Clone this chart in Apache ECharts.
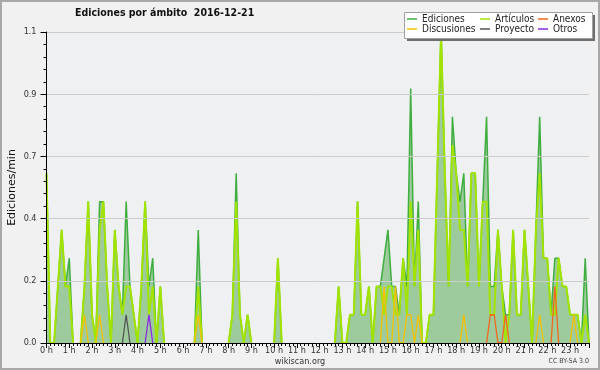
<!DOCTYPE html>
<html><head><meta charset="utf-8">
<script src="https://cdn.jsdelivr.net/npm/echarts@6/dist/echarts.min.js"></script>
<style>html,body{margin:0;padding:0;background:#f1f1f1}#c{width:600px;height:370px}</style>
</head><body><div id="c"></div>
<script>
// 10-minute bins, 0:00 .. 23:50 (144 points), edits per minute
const slots = Array.from({length:144}, (_, i) => i);
const hourTicks = ["0 h","1 h","2 h","3 h","4 h","5 h","6 h","7 h","8 h","9 h","10 h","11 h","12 h","13 h","14 h","15 h","16 h","17 h","18 h","19 h","20 h","21 h","22 h","23 h"];
const yTicks = ["0.0","0.2","0.4","0.7","0.9","1.1"];
const ediciones = [
 0.6,0,0,0.2,0.4,0.2,0.3,0,0,0,0.2,0.5,
 0.1,0,0.5,0.5,0.2,0,0.4,0.2,0.1,0.5,0.2,0.1,
 0,0.2,0.5,0.2,0.3,0,0.2,0,0,0,0,0,
 0,0,0,0,0.4,0,0,0,0,0,0,0,
 0,0.1,0.6,0.1,0,0.1,0,0,0,0,0,0,
 0,0.3,0,0,0,0,0,0,0,0,0,0,
 0,0,0,0,0,0.2,0,0,0.1,0.1,0.5,0.1,
 0.1,0.2,0,0.2,0.2,0.3,0.4,0.2,0.2,0.1,0.3,0.2,
 0.9,0.2,0.5,0,0,0.1,0.1,0.6,1.1,0.6,0.2,0.8,
 0.6,0.5,0.6,0.2,0.6,0.6,0.2,0.5,0.8,0.2,0.2,0.4,
 0.2,0.1,0.1,0.4,0.1,0.1,0.4,0.2,0,0.4,0.8,0.3,
 0.3,0.1,0.3,0.3,0.2,0.2,0.1,0.1,0.1,0,0.3,0
];
const articulos = [
 0.6,0,0,0.2,0.4,0.2,0.2,0,0,0,0.2,0.5,
 0.1,0,0.4,0.5,0.2,0,0.4,0.2,0.1,0.2,0.2,0.1,
 0,0.2,0.5,0.1,0.2,0,0.2,0,0,0,0,0,
 0,0,0,0,0.2,0,0,0,0,0,0,0,
 0,0.1,0.5,0.1,0,0.1,0,0,0,0,0,0,
 0,0.3,0,0,0,0,0,0,0,0,0,0,
 0,0,0,0,0,0.2,0,0,0.1,0.1,0.5,0.1,
 0.1,0.2,0,0.2,0.2,0.1,0.2,0.2,0.1,0.1,0.3,0.1,
 0.5,0.2,0.4,0,0,0.1,0.1,0.6,1.1,0.6,0.2,0.7,
 0.6,0.4,0.4,0.2,0.6,0.6,0.2,0.5,0.5,0.1,0.1,0.4,
 0.2,0,0.1,0.4,0.1,0.1,0.4,0.2,0,0.4,0.6,0.3,
 0.3,0.1,0.1,0.3,0.2,0.2,0.1,0.1,0.1,0,0.1,0
];
const anexos = [
 0,0,0,0,0,0,0,0,0,0,0,0,
 0,0,0,0,0,0,0,0,0,0,0,0,
 0,0,0,0,0,0,0,0,0,0,0,0,
 0,0,0,0,0,0,0,0,0,0,0,0,
 0,0,0,0,0,0,0,0,0,0,0,0,
 0,0,0,0,0,0,0,0,0,0,0,0,
 0,0,0,0,0,0,0,0,0,0,0,0,
 0,0,0,0,0,0,0,0,0,0,0,0,
 0,0,0,0,0,0,0,0,0,0,0,0,
 0,0,0,0,0,0,0,0,0,0.1,0.1,0,
 0,0.1,0,0,0,0,0,0,0,0,0,0,
 0,0,0.2,0,0,0,0,0,0,0,0,0
];
const discusiones = [
 0,0,0,0,0,0,0,0,0,0,0.1,0,
 0,0,0.1,0,0,0,0,0,0,0,0,0,
 0,0,0,0,0,0,0,0,0,0,0,0,
 0,0,0,0,0.1,0,0,0,0,0,0,0,
 0,0,0,0,0,0,0,0,0,0,0,0,
 0,0,0,0,0,0,0,0,0,0,0,0,
 0,0,0,0,0,0,0,0,0,0,0,0,
 0,0,0,0,0,0.2,0,0,0.2,0,0,0.1,
 0.1,0,0.1,0,0,0,0,0,0,0,0,0,
 0,0,0.1,0,0,0,0,0,0,0,0,0,
 0,0,0,0,0,0,0,0,0,0,0.1,0,
 0,0,0,0,0,0,0,0.1,0,0,0,0
];
const proyecto = [
 0,0,0,0,0,0,0,0,0,0,0,0,
 0,0,0,0,0,0,0,0,0,0.1,0,0,
 0,0,0,0,0,0,0,0,0,0,0,0,
 0,0,0,0,0,0,0,0,0,0,0,0,
 0,0,0,0,0,0,0,0,0,0,0,0,
 0,0,0,0,0,0,0,0,0,0,0,0,
 0,0,0,0,0,0,0,0,0,0,0,0,
 0,0,0,0,0,0,0,0,0,0,0,0,
 0,0,0,0,0,0,0,0,0,0,0,0,
 0,0,0,0,0,0,0,0,0,0,0,0,
 0,0,0,0,0,0,0,0,0,0,0,0,
 0,0,0,0,0,0,0,0,0,0,0,0
];
const otros = [
 0,0,0,0,0,0,0,0,0,0,0,0,
 0,0,0,0,0,0,0,0,0,0,0,0,
 0,0,0,0.1,0,0,0,0,0,0,0,0,
 0,0,0,0,0,0,0,0,0,0,0,0,
 0,0,0,0,0,0,0,0,0,0,0,0,
 0,0,0,0,0,0,0,0,0,0,0,0,
 0,0,0,0,0,0,0,0,0,0,0,0,
 0,0,0,0,0,0,0,0,0,0,0,0,
 0,0,0,0,0,0,0,0,0,0,0,0,
 0,0,0,0,0,0,0,0,0,0,0,0,
 0,0,0,0,0,0,0,0,0,0,0,0,
 0,0,0,0,0,0,0,0,0,0,0,0
];

// drop runs of zeros (so no coloured line is drawn along the axis)
const pair = arr => slots.map(i => {
  const v = arr[i];
  const p = i > 0 ? arr[i-1] : 0, n = i < arr.length-1 ? arr[i+1] : 0;
  return [i, (v === 0 && p === 0 && n === 0) ? null : v];
});
const F = '"DejaVu Sans Condensed", "DejaVu Sans", sans-serif';
const chart = echarts.init(document.getElementById('c'), null, {renderer:'canvas'});
function lineSeries(name, data, color, width, z, area) {
  const s = {name, type:'line', data: pair(data), symbol:'none', showSymbol:false,
    lineStyle:{color, width}, itemStyle:{color}, z, animation:false, connectNulls:false};
  if (area) s.areaStyle = {color: area, opacity: 1};
  return s;
}
const legendBase = {orient:'vertical', top:14, padding:0, itemWidth:10, itemHeight:1.5, icon:'rect',
  itemGap:0, itemTextGap:7, selectedMode:false,
  textStyle:{fontFamily:F, fontSize:10, color:'#222', lineHeight:10}};
chart.setOption({
  backgroundColor:'#f1f1f1',
  animation:false,
  title:{text:'Ediciones por ámbito  2016-12-21', left:75, top:8, padding:0,
    textStyle:{fontFamily:F, fontSize:10.5, fontWeight:'bold', color:'#111'}},
  graphic:[
    {type:'rect', shape:{x:1, y:1, width:598, height:368}, style:{fill:'none', stroke:'#a8a8a8', lineWidth:2}, z:100},
    {type:'rect', shape:{x:407, y:15, width:188, height:26}, style:{fill:'#6e6e6e'}, z:50},
    {type:'rect', shape:{x:404.5, y:12.5, width:188, height:26}, style:{fill:'#ffffff', stroke:'#a0a0a0', lineWidth:1}, z:51},
    {type:'text', left:'center', top:357, style:{text:'wikiscan.org', font:'9px "DejaVu Sans Condensed", "DejaVu Sans"', fill:'#333'}, z:60},
    {type:'text', right:11, top:358, style:{text:'CC BY-SA 3.0', font:'7px "DejaVu Sans Condensed", "DejaVu Sans"', fill:'#444'}, z:60}
  ],
  legend:[
    Object.assign({}, legendBase, {left:407, data:['Ediciones','Discusiones'], z:60}),
    Object.assign({}, legendBase, {left:480, data:['Artículos','Proyecto'], z:60}),
    Object.assign({}, legendBase, {left:538, data:['Anexos','Otros'], z:60})
  ],
  grid:{left:46.5, right:11, top:32, bottom:27, show:true, backgroundColor:'#eef0f1', borderWidth:0,
    containLabel:false, outerBoundsMode:'none'},
  xAxis:{type:'value', min:0, max:143, interval:6, z:10,
    axisLine:{lineStyle:{color:'#000', width:1}},
    axisTick:{length:5, lineStyle:{color:'#000'}},
    minorTick:{show:true, splitNumber:6, length:3, lineStyle:{color:'#000'}},
    splitLine:{show:false},
    axisLabel:{margin:3, fontFamily:F, fontSize:9, color:'#333',
      formatter: v => (v % 6 === 0 && v/6 < hourTicks.length) ? hourTicks[v/6] : ''}},
  yAxis:{type:'value', min:0, max:1.1, interval:0.22, z:10,
    name:'Ediciones/min', nameLocation:'middle', nameGap:29, nameRotate:90, nameMoveOverlap:false,
    nameTextStyle:{fontFamily:'"DejaVu Sans", sans-serif', fontSize:11, color:'#111'},
    axisLine:{show:true, lineStyle:{color:'#000', width:1}},
    axisTick:{show:true, length:6, lineStyle:{color:'#000'}},
    minorTick:{show:true, splitNumber:5, length:3, lineStyle:{color:'#000'}},
    splitLine:{lineStyle:{color:'#cccccc', width:1}},
    axisLabel:{margin:10, fontFamily:F, fontSize:9, color:'#333',
      formatter: v => yTicks[Math.round(v/0.22)]}},
  series:[
    lineSeries('Ediciones', ediciones, '#3fae3f', 1.5, 2, '#9ecb9e'),
    lineSeries('Artículos', articulos, '#a2e400', 2, 3),
    lineSeries('Anexos', anexos, '#f2661c', 1.3, 4),
    lineSeries('Discusiones', discusiones, '#f5c200', 1.3, 4),
    lineSeries('Proyecto', proyecto, '#555555', 1.3, 4),
    lineSeries('Otros', otros, '#8a2be2', 1.3, 4)
  ]
});
</script></body></html>
